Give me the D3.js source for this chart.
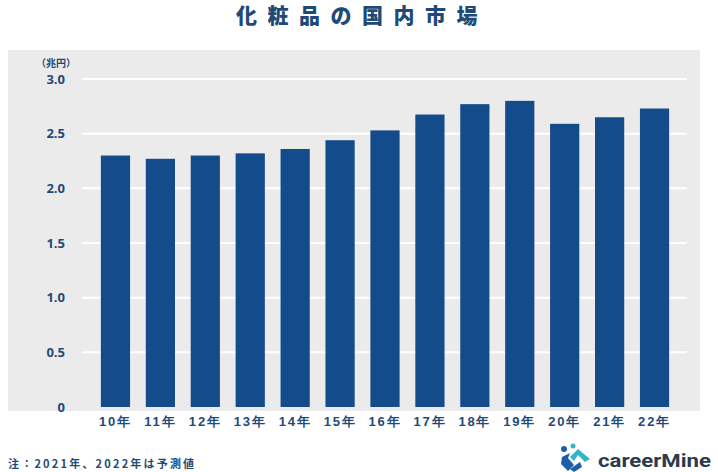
<!DOCTYPE html>
<html><head><meta charset="utf-8">
<script src="https://cdn.jsdelivr.net/npm/d3@7/dist/d3.min.js"></script>
<style>
body{margin:0;background:#fff;}
svg{display:block;font-family:"Noto Sans CJK JP","Noto Sans",sans-serif;}
</style></head>
<body>
<svg id="c" width="718" height="472"></svg>
<script>
const categories = ["10年","11年","12年","13年","14年","15年","16年","17年","18年","19年","20年","21年","22年"];
const values = [2.30,2.27,2.30,2.32,2.36,2.44,2.53,2.675,2.77,2.80,2.59,2.65,2.73];
const yTicks = [0,0.5,1.0,1.5,2.0,2.5,3.0];
const yTickLabels = ["0","0.5","1.0","1.5","2.0","2.5","3.0"];
const title = "化粧品の国内市場";
const unitLabel = "（兆円）";
const note = "注：2021年、2022年は予測値";
const brand = "careerMine";

const svg = d3.select("#c");
const navy = "#1f4a78";

// panel
svg.append("rect").attr("x",8).attr("y",50).attr("width",692).attr("height",361).attr("fill","#ebebeb");

const x = d3.scaleBand().domain(categories).range([93,677]).paddingInner(0.35).paddingOuter(0.175);
const y = d3.scaleLinear().domain([0,3]).range([407,79]);

// gridlines
svg.append("g").selectAll("line").data(yTicks.filter(d=>d>0)).join("line")
  .attr("x1",82).attr("x2",687)
  .attr("y1",d=>y(d)).attr("y2",d=>y(d))
  .attr("stroke","#ffffff").attr("stroke-width",2);

// bars
svg.append("g").selectAll("rect").data(values).join("rect")
  .attr("x",(d,i)=>x(categories[i]))
  .attr("width",x.bandwidth())
  .attr("y",d=>y(d))
  .attr("height",d=>y(0)-y(d))
  .attr("fill","#134b8b");

// y axis
const yAxis = d3.axisLeft(y).tickValues(yTicks).tickFormat((d,i)=>yTickLabels[i]).tickSize(0).tickPadding(0);
const gy = svg.append("g").attr("transform","translate(65,0)").call(yAxis);
gy.select(".domain").remove();
gy.selectAll("text").attr("fill",navy).attr("font-size",13).attr("font-weight","bold")
  .attr("font-family","'Open Sans',sans-serif");

// x axis
const xAxis = d3.axisBottom(x).tickSize(0).tickPadding(0);
const gx = svg.append("g").attr("transform","translate(0,417)").call(xAxis);
gx.select(".domain").remove();
gx.selectAll("text").attr("fill",navy).attr("font-size",13).attr("font-weight","bold")
  .attr("letter-spacing","1.8px").attr("dy","0.71em");

// title
svg.append("text").attr("x",362).attr("y",23).attr("text-anchor","middle")
  .attr("fill",navy).attr("font-size",21).attr("font-weight",900).attr("letter-spacing","10.5px")
  .text(title);

// unit label
svg.append("text").attr("x",36).attr("y",67).attr("fill",navy)
  .attr("font-size",10).attr("font-weight","bold").text(unitLabel);

// note
svg.append("text").attr("x",8).attr("y",468).attr("fill",navy)
  .attr("font-size",11).attr("font-weight","bold").attr("letter-spacing","2.2px").text(note);

// logo icon
const logo = svg.append("g").attr("transform","translate(560,445)");
logo.append("circle").attr("cx",4).attr("cy",4).attr("r",3).attr("fill","#1c5fa8");
logo.append("circle").attr("cx",13).attr("cy",1).attr("r",2.5).attr("fill","#36b3c6");
logo.append("path").attr("d","M2,12 L10,8 L8,13 L14,20 L8,26 L1,19 Z").attr("fill","#1c5fa8");
logo.append("path").attr("d","M10,12 L18,4 L30,14 L25,17 L18,10 L14,16 Z").attr("fill","#36b3c6");
logo.append("path").attr("d","M10,24 L20,17 L22,22 L14,27 Z").attr("fill","#1c5fa8");

svg.append("text").attr("x",598).attr("y",467).attr("fill","#2c3a4c")
  .attr("font-size",18).attr("font-weight","bold").attr("font-family","'Roboto',sans-serif")
  .attr("textLength",113).attr("lengthAdjust","spacingAndGlyphs").text(brand);
</script>
</body></html>
